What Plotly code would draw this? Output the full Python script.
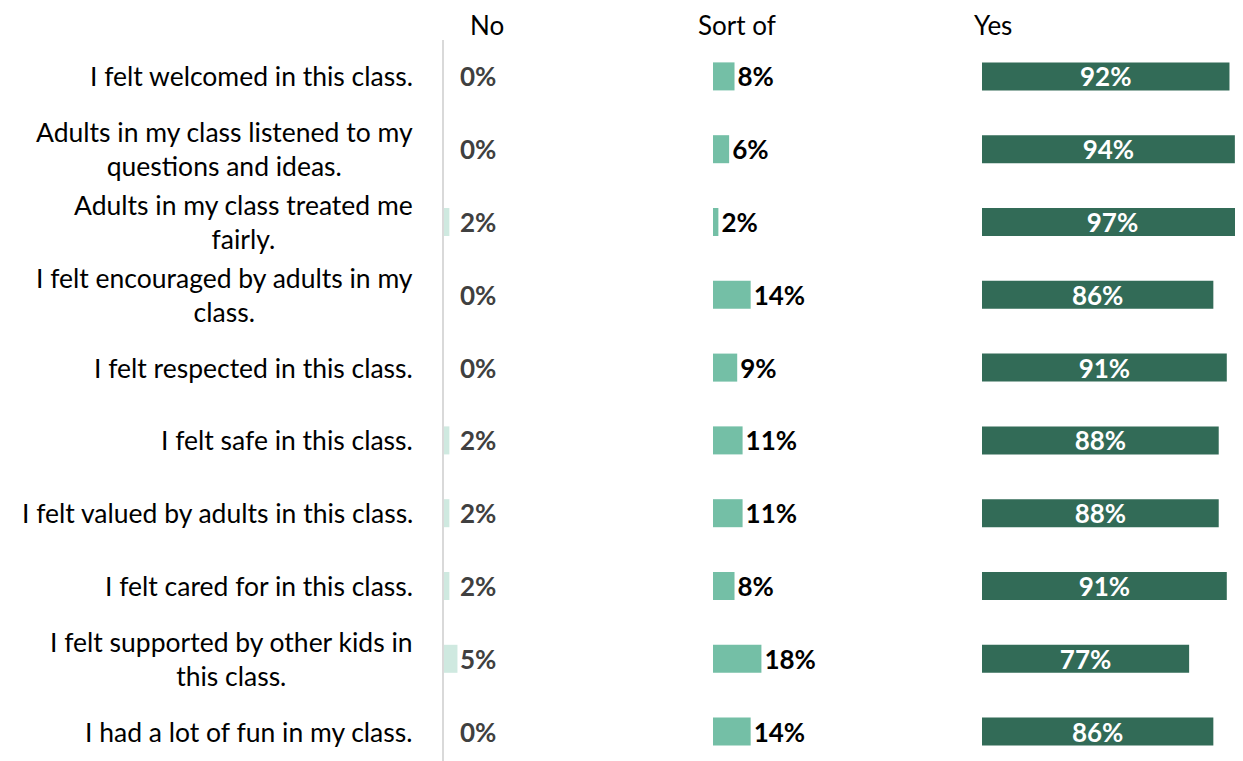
import plotly.graph_objects as go

items = [
    "I felt welcomed in this class.",
    "Adults in my class listened to my<br>questions and ideas.",
    "Adults in my class treated me<br>fairly.",
    "I felt encouraged by adults in my<br>class.",
    "I felt respected in this class.",
    "I felt safe in this class.",
    "I felt valued by adults in this class.",
    "I felt cared for in this class.",
    "I felt supported by other kids in<br>this class.",
    "I had a lot of fun in my class.",
]
no_vals = [0, 0, 2, 0, 0, 2, 2, 2, 5, 0]
sortof_vals = [8, 6, 2, 14, 9, 11, 11, 8, 18, 14]
yes_vals = [92, 94, 97, 86, 91, 88, 88, 91, 77, 86]
columns = ["No", "Sort of", "Yes"]

FONT = "Lato"
# page has an 8px body margin; figure sized so it ends at the window edge
W, H = 1235, 753
L, T = 436, 32
pw = W - L
ph = H - T
ypos = list(range(len(items)))
bw = 0.385
VAL = 26

fig = go.Figure()
fig.add_trace(go.Bar(
    x=no_vals, y=ypos, orientation="h", width=bw,
    marker=dict(color="#cfe9e0", line=dict(width=0)),
    xaxis="x", yaxis="y", hoverinfo="skip"))
fig.add_trace(go.Bar(
    x=sortof_vals, y=ypos, orientation="h", width=bw,
    marker=dict(color="#74bfa6", line=dict(width=0)),
    text=[f"<b>{v}%</b>" for v in sortof_vals], textposition="outside",
    constraintext="none",
    textfont=dict(family=FONT, size=VAL, color="#000000"),
    cliponaxis=False, xaxis="x2", yaxis="y", hoverinfo="skip"))
fig.add_trace(go.Bar(
    x=yes_vals, y=ypos, orientation="h", width=bw,
    marker=dict(color="#326b57", line=dict(width=0)),
    text=[f"<b>{v}%</b>" for v in yes_vals], textposition="inside",
    insidetextanchor="middle", constraintext="none",
    textfont=dict(family=FONT, size=VAL, color="#ffffff"),
    xaxis="x3", yaxis="y", hoverinfo="skip"))

d1 = 269 / pw
d2 = 538 / pw
axcommon = dict(showgrid=False, zeroline=False, showticklabels=False, showline=False, fixedrange=True)
layout = dict(
    width=W, height=H,
    margin=dict(l=L, r=0, t=T, b=0),
    paper_bgcolor="white", plot_bgcolor="white",
    showlegend=False, barmode="overlay",
    font=dict(family=FONT, size=22, color="#000000"),
    xaxis=dict(domain=[0, d1], range=[0, 100], anchor="y", **axcommon),
    xaxis2=dict(domain=[d1, d2], range=[0, 100], anchor="y", **axcommon),
    xaxis3=dict(domain=[d2, 1], range=[0, 261 / 2.69], anchor="y", **axcommon),
    yaxis=dict(range=[ph / 72.8 - 0.5, -0.5], anchor="x",
               showgrid=False, zeroline=False, showticklabels=False,
               showline=True, linecolor="#d9d9d9", linewidth=2),
)
fig.update_layout(**layout)

# "No" value labels sit at a fixed spot in the No column
for i, v in enumerate(no_vals):
    fig.add_annotation(
        x=12.6, xref="x", y=i, yref="y", text=f"<b>{v}%</b>",
        showarrow=False, xanchor="center", yanchor="middle",
        font=dict(family=FONT, size=VAL, color="#404040"))

for i, lab in enumerate(items):
    fig.add_annotation(
        x=-29 / pw, xref="paper", y=i, yref="y",
        text=lab, showarrow=False, xanchor="right", yanchor="middle",
        align="center", font=dict(family=FONT, size=26.5, color="#000000"))

header_px = [43, 293, 549]
for name, px in zip(columns, header_px):
    fig.add_annotation(
        x=px / pw, xref="paper", y=1 + 15 / ph, yref="paper",
        text=name, showarrow=False, xanchor="center", yanchor="middle",
        font=dict(family=FONT, size=26, color="#000000"))

fig.write_html("out.html")
